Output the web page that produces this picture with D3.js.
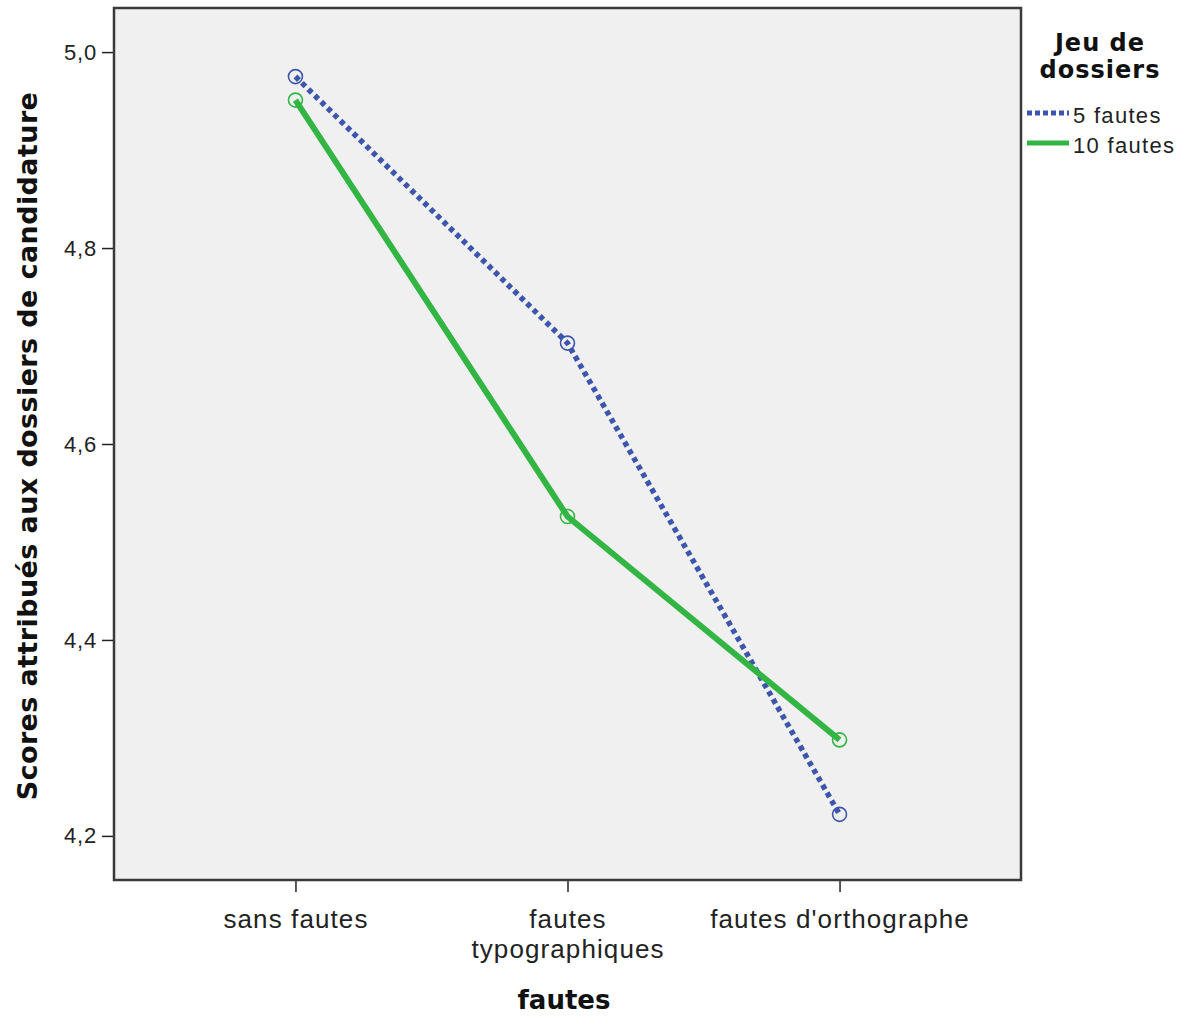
<!DOCTYPE html>
<html><head><meta charset="utf-8">
<script src="https://cdn.jsdelivr.net/npm/d3@7"></script>
<style>
body{margin:0;background:#fff;}
svg{display:block;}
</style></head>
<body>
<script>
const categories = [["sans fautes"], ["fautes", "typographiques"], ["fautes d'orthographe"]];
const categoryKeys = ["sans fautes", "fautes typographiques", "fautes d'orthographe"];
const seriesNames = ["5 fautes", "10 fautes"];
const values5 = [4.975, 4.703, 4.222];
const values10 = [4.951, 4.526, 4.298];
const yTicks = [4.2, 4.4, 4.6, 4.8, 5.0];
const yTitle = "Scores attribués aux dossiers de candidature";
const xTitle = "fautes";
const legendTitle = ["Jeu de", "dossiers"];

const W = 1186, H = 1017;
const plot = {left: 114, right: 1021, top: 8, bottom: 880};
const colors = ["#3d56ad", "#33b544"];

const svg = d3.select("body").append("svg").attr("width", W).attr("height", H);

const x = d3.scalePoint().domain(categoryKeys).range([plot.left, plot.right]).padding(0.667);
const y = d3.scaleLinear().domain([4.155, 5.045]).range([plot.bottom, plot.top]);

svg.append("rect").attr("x", plot.left).attr("y", plot.top)
  .attr("width", plot.right - plot.left).attr("height", plot.bottom - plot.top)
  .attr("fill", "#f0f0f0");

const loc = d3.formatLocale({decimal: ",", thousands: " ", grouping: [3], currency: ["", "€"]});
const fmt = loc.format(".1f");

const yAxis = svg.append("g").attr("transform", `translate(${plot.left},0)`)
  .call(d3.axisLeft(y).tickValues(yTicks).tickFormat(fmt).tickSize(12).tickPadding(5));
yAxis.select(".domain").remove();
yAxis.selectAll("line").attr("stroke", "#222").attr("stroke-width", 1.5);
yAxis.selectAll("text").attr("font-family", "Liberation Sans, Arial, sans-serif")
  .attr("font-size", 22).attr("fill", "#222").style("letter-spacing", "0.8px");

const xAxis = svg.append("g").attr("transform", `translate(0,${plot.bottom})`)
  .call(d3.axisBottom(x).tickSize(12).tickFormat(""));
xAxis.select(".domain").remove();
xAxis.selectAll("line").attr("stroke", "#222").attr("stroke-width", 1.5);
xAxis.selectAll(".tick").each(function(d, i) {
  const t = d3.select(this).append("text")
    .attr("font-family", "Liberation Sans, Arial, sans-serif")
    .attr("font-size", 26).attr("fill", "#222").attr("text-anchor", "middle")
    .style("letter-spacing", "1.1px");
  categories[i].forEach((line, j) => {
    t.append("tspan").attr("x", 0).attr("y", 48 + j * 30).text(line);
  });
});

svg.append("rect").attr("x", plot.left).attr("y", plot.top)
  .attr("width", plot.right - plot.left).attr("height", plot.bottom - plot.top)
  .attr("fill", "none").attr("stroke", "#3a3a3a").attr("stroke-width", 2.5);

const series = [values5, values10];
const line = d3.line().x((d, i) => x(categoryKeys[i])).y(d => y(d));

series.forEach((vals, s) => {
  svg.append("path").datum(vals).attr("d", line).attr("fill", "none")
    .attr("stroke", colors[s]).attr("stroke-width", s === 0 ? 5.5 : 6)
    .attr("stroke-dasharray", s === 0 ? "5,4" : null);
  svg.selectAll(null).data(vals).enter().append("circle")
    .attr("cx", (d, i) => x(categoryKeys[i])).attr("cy", d => y(d)).attr("r", 7)
    .attr("fill", "none").attr("stroke", colors[s]).attr("stroke-width", 1.6);
});

// Axis titles
svg.append("text").attr("transform", `translate(37,446) rotate(-90)`)
  .attr("text-anchor", "middle").attr("font-family", "DejaVu Sans, sans-serif")
  .attr("font-weight", "bold").attr("font-size", 27).attr("fill", "#111")
  .style("letter-spacing", "0.4px").text(yTitle);
svg.append("text").attr("x", 564).attr("y", 1009).attr("text-anchor", "middle")
  .attr("font-family", "DejaVu Sans, sans-serif").attr("font-weight", "bold")
  .attr("font-size", 26).attr("fill", "#111").text(xTitle);

// Legend
legendTitle.forEach((t, i) => {
  svg.append("text").attr("x", 1100).attr("y", 51 + i * 27).attr("text-anchor", "middle")
    .attr("font-family", "DejaVu Sans, sans-serif").attr("font-weight", "bold")
    .attr("font-size", 24).attr("fill", "#111").style("letter-spacing", "1px").text(t);
});
seriesNames.forEach((name, s) => {
  const ly = 113 + s * 30;
  svg.append("line").attr("x1", 1027).attr("x2", 1069).attr("y1", ly).attr("y2", ly)
    .attr("stroke", colors[s]).attr("stroke-width", 5)
    .attr("stroke-dasharray", s === 0 ? "5,3" : null);
  svg.append("text").attr("x", 1073).attr("y", ly + 10)
    .attr("font-family", "Liberation Sans, Arial, sans-serif").attr("font-size", 22)
    .attr("fill", "#222").style("letter-spacing", "1.3px").text(name);
});
</script>
</body></html>
